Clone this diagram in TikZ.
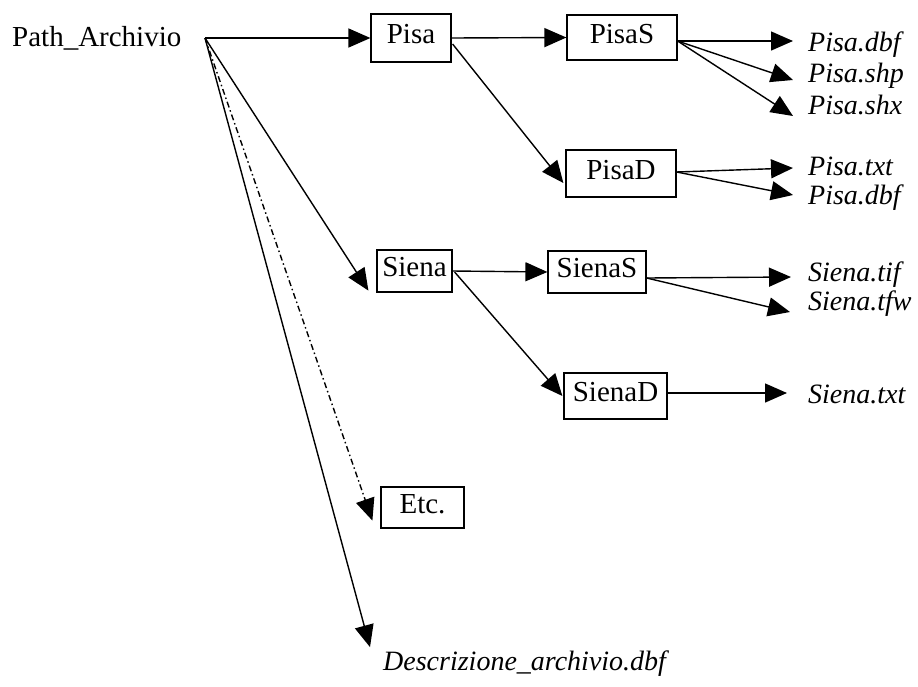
\documentclass[tikz,border=0pt]{standalone}
\usepackage{fontspec}
\setmainfont{Liberation Serif}
\usetikzlibrary{arrows.meta,calc}
\begin{document}
\begin{tikzpicture}[x=1pt,y=-1pt,
  every node/.style={font=\fontsize{29}{34}\selectfont, inner sep=0pt},
  folder/.style={draw, line width=1.2pt, text height=20pt, text depth=9pt},
  file/.style={anchor=base west, font=\fontsize{28}{33}\selectfont\itshape},
  link/.style={line width=1.4pt, -{Triangle[length=22pt,width=19pt]}},
  linkdd/.style={link, dash pattern=on 6pt off 3pt on 1.5pt off 3pt}
]
\useasboundingbox (0,0) rectangle (918,686);

% root of the archive
\node[anchor=base west] (root) at (12,46) {Path\_Archivio};
\coordinate (o) at (205,38);

% folders
\node[folder, minimum width=80pt, minimum height=48pt] (Pisa) at (411,38) {Pisa};
\node[folder, minimum width=110pt, minimum height=45pt] (PisaS) at (622,37.5) {PisaS};
\node[folder, minimum width=110pt, minimum height=47pt] (PisaD) at (621,173.5) {PisaD};
\node[folder, minimum width=75pt, minimum height=42pt] (Siena) at (414.5,271) {Siena};
\node[folder, minimum width=98pt, minimum height=42pt] (SienaS) at (597,272) {SienaS};
\node[folder, minimum width=103pt, minimum height=46pt] (SienaD) at (615.5,396) {SienaD};
\node[folder, minimum width=83pt, minimum height=41pt] (Etc) at (422.5,507.5) {Etc.};

% files
\node[file] (dbfA) at (808,51) {Pisa.dbf};
\node[file] (shp) at (808,82) {Pisa.shp};
\node[file] (shx) at (808,114) {Pisa.shx};
\node[file] (txtP) at (808,175) {Pisa.txt};
\node[file] (dbfB) at (808,204) {Pisa.dbf};
\node[file] (tif) at (808,281) {Siena.tif};
\node[file] (tfw) at (808,310) {Siena.tfw};
\node[file] (txtS) at (808,403) {Siena.txt};
\node[file] (descr) at (383,670) {Descrizione\_archivio.dbf};

% connectors from the root
\draw[link] (o) -- (Pisa.west);
\draw[link] (o) -- ($(Siena.south west)+(-8,-2)$);
\draw[linkdd] (o) -- ($(Etc.south west)+(-8,-8)$);
\draw[link] (o) -- ($(descr.north west)+(-13,-3)$);

% Pisa branch
\draw[link] (Pisa.east) -- (PisaS.west);
\draw[link] ($(Pisa.east)+(1,6)$) -- ($(PisaD.west)+(-2,9.5)$);
\draw[link] ($(PisaS.east)+(0,3.5)$) -- ($(dbfA.base west)+(-15,-10)$);
\draw[link] ($(PisaS.east)+(0,3.5)$) -- ($(shp.base west)+(-15,-2)$);
\draw[link] ($(PisaS.east)+(0,3.5)$) -- ($(shx.base west)+(-15,2)$);
\draw[link] ($(PisaD.east)+(0,-1.5)$) -- ($(txtP.base west)+(-15,-7)$);
\draw[link] ($(PisaD.east)+(0,-1.5)$) -- ($(dbfB.base west)+(-15,-9)$);

% Siena branch
\draw[link] (Siena.east) -- (SienaS.west);
\draw[link] ($(Siena.east)+(2,1)$) -- ($(SienaD.west)+(-1,0)$);
\draw[link] ($(SienaS.east)+(0,6)$) -- ($(tif.base west)+(-17,-4)$);
\draw[link] ($(SienaS.east)+(0,6)$) -- ($(tfw.base west)+(-18,2)$);
\draw[link] ($(SienaD.east)+(0,-3)$) -- ($(txtS.base west)+(-21,-10)$);
\end{tikzpicture}
\end{document}
